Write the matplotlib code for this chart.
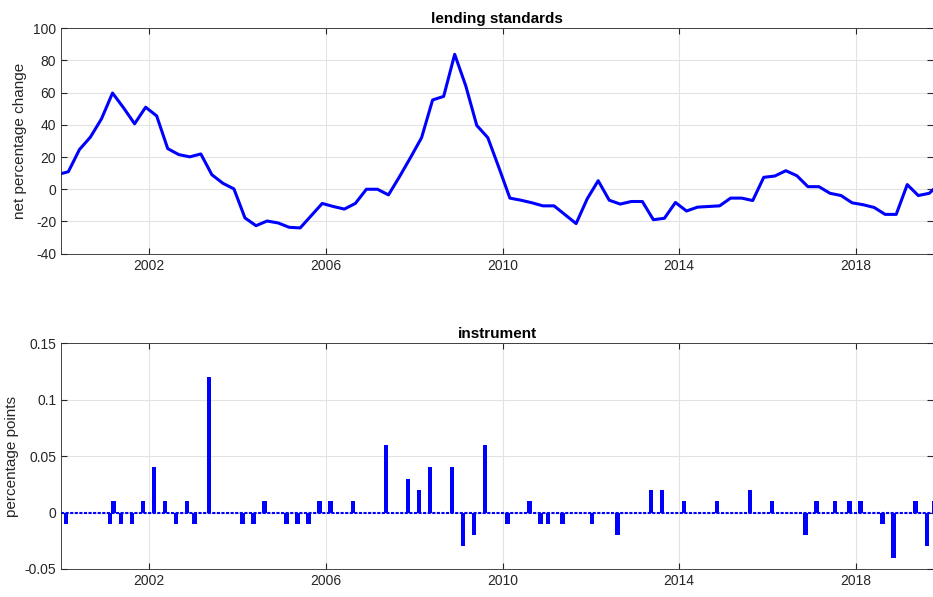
import numpy as np
import matplotlib
matplotlib.use("Agg")
import matplotlib.pyplot as plt

# quarterly lending standards, first point 1999Q4 (clipped by xlim)
lending = [9, 10.9, 24.6, 32.4, 43.7, 59.7, 50.5, 40.6, 50.9, 45.5,
           25.2, 21.5, 20.1, 21.9, 9.0, 3.7, 0.2, -17.8, -22.6, -19.7,
           -20.9, -23.6, -24.0, -16.4, -8.8, -10.7, -12.3, -8.8, 0.0, 0.0,
           -3.5, 7.8, 19.7, 32.0, 55.4, 57.6, 83.7, 64.2, 39.6, 32.0,
           13.5, -5.5, -6.8, -8.4, -10.3, -10.3, -15.8, -21.3, -6.0, 5.3,
           -6.8, -9.2, -7.6, -7.6, -18.9, -18.0, -8.2, -13.5, -11.1, -10.7,
           -10.3, -5.5, -5.5, -7.0, 7.4, 8.2, 11.5, 8.4, 1.6, 1.6,
           -2.5, -3.9, -8.4, -9.6, -11.3, -15.6, -15.6, 2.9, -3.9, -2.5,
           4.0]
q_dates = 1999 + 11 / 12 + 0.25 * np.arange(len(lending))

# monthly instrument: month index -> value (all other months zero)
instr_months = [1, 13, 14, 16, 19, 22, 25, 28, 31, 34, 36, 40, 49, 52, 55,
                61, 64, 67, 70, 73, 79, 88, 94, 97, 100, 106, 109, 112, 115,
                121, 127, 130, 132, 136, 144, 151, 160, 163, 169, 178, 187,
                193, 202, 205, 210, 214, 217, 223, 226, 232, 235, 237]
instr_values = [-0.01, -0.01, 0.01, -0.01, -0.01, 0.01, 0.04, 0.01, -0.01, 0.01,
                -0.01, 0.12, -0.01, -0.01, 0.01, -0.01, -0.01, -0.01, 0.01, 0.01,
                0.01, 0.06, 0.03, 0.02, 0.04, 0.04, -0.03, -0.02, 0.06,
                -0.01, 0.01, -0.01, -0.01, -0.01, -0.01, -0.02, 0.02, 0.02, 0.01,
                0.01, 0.02, 0.01, -0.02, 0.01, 0.01, 0.01, 0.01, -0.01, -0.04,
                0.01, -0.03, 0.01]
instr = np.zeros(240)
instr[instr_months] = instr_values
m_dates = 2000 + (np.arange(240) + 0.3) / 12

xticks = [2002, 2006, 2010, 2014, 2018]
plt.rcParams["font.family"] = ["Liberation Sans", "DejaVu Sans"]
plt.rcParams["axes.unicode_minus"] = False

fig = plt.figure(figsize=(9.33, 5.97), dpi=100)
ax1 = fig.add_axes([0.0654, 0.575, 0.9346, 0.378])
ax2 = fig.add_axes([0.0654, 0.047, 0.9346, 0.378])


def style(ax):
    ax.set_xlim(2000, 2019.75)
    ax.set_xticks(xticks)
    ax.grid(True, color="#e3e3e3", lw=0.8)
    ax.set_axisbelow(True)
    ax.tick_params(direction="in", length=4, labelsize=10, colors="#262626",
                   top=True, right=True)
    for s in ax.spines.values():
        s.set_color("#262626")
        s.set_linewidth(0.6)


ax1.plot(q_dates, lending, color="blue", lw=2.2)
style(ax1)
ax1.set_ylim(-40, 100)
ax1.set_yticks(range(-40, 101, 20))
ax1.set_ylabel("net percentage change", fontsize=11, color="#262626")
ax1.set_title("lending standards", fontsize=11, fontweight="bold", pad=4)

ax2.bar(m_dates, instr, width=1.2 / 12, color="blue", linewidth=0)
ax2.axhline(0, color="blue", lw=1.5, ls=(0, (1.5, 0.7)))
style(ax2)
ax2.set_ylim(-0.05, 0.15)
ax2.set_yticks([-0.05, 0, 0.05, 0.1, 0.15])
ax2.set_yticklabels(["-0.05", "0", "0.05", "0.1", "0.15"])
ax2.set_ylabel("percentage points", fontsize=11, color="#262626")
ax2.set_title("instrument", fontsize=11, fontweight="bold", pad=4)

fig.savefig("out.png", dpi=100)
